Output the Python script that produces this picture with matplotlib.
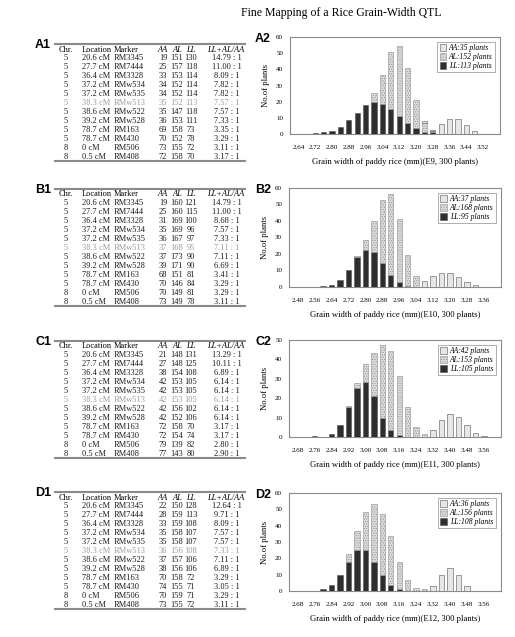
import numpy as np
import matplotlib
matplotlib.use('Agg')
import matplotlib.pyplot as plt
from matplotlib.patches import Patch

W, H = 515, 637
SERIF = 'Liberation Serif'
plt.rcParams['hatch.linewidth'] = 0.45

# shared table columns
chromosomes = ['5', '5', '5', '5', '5', '5', '5', '5', '5', '5', '8', '8']
locations = ['20.6 cM', '27.7 cM', '36.4 cM', '37.2 cM', '37.2 cM', '38.3 cM',
             '38.6 cM', '39.2 cM', '78.7 cM', '78.7 cM', '0 cM', '0.5 cM']
markers = ['RM3345', 'RM7444', 'RM3328', 'RMw534', 'RMw535', 'RMw513',
           'RMw522', 'RMw528', 'RM163', 'RM430', 'RM506', 'RM408']

# genotype counts per environment (tables)
a1_aa = [19, 25, 33, 34, 34, 35, 35, 36, 69, 70, 73, 72]
a1_al = [151, 157, 153, 152, 152, 152, 147, 153, 158, 152, 155, 158]
a1_ll = [130, 118, 114, 114, 114, 113, 118, 111, 73, 78, 72, 70]
a1_ratio = ['14.79 : 1', '11.00 : 1', '8.09 : 1', '7.82 : 1', '7.82 : 1', '7.57 : 1',
            '7.57 : 1', '7.33 : 1', '3.35 : 1', '3.29 : 1', '3.11 : 1', '3.17 : 1']

b1_aa = [19, 25, 31, 35, 36, 37, 37, 39, 68, 70, 70, 73]
b1_al = [160, 160, 169, 169, 167, 168, 173, 171, 151, 146, 149, 149]
b1_ll = [121, 115, 100, 96, 97, 95, 90, 90, 81, 84, 81, 78]
b1_ratio = ['14.79 : 1', '11.00 : 1', '8.68 : 1', '7.57 : 1', '7.33 : 1', '7.11 : 1',
            '7.11 : 1', '6.69 : 1', '3.41 : 1', '3.29 : 1', '3.29 : 1', '3.11 : 1']

c1_aa = [21, 27, 38, 42, 42, 42, 42, 42, 72, 72, 79, 77]
c1_al = [148, 148, 154, 153, 153, 153, 156, 152, 158, 154, 139, 143]
c1_ll = [131, 125, 108, 105, 105, 105, 102, 106, 70, 74, 82, 80]
c1_ratio = ['13.29 : 1', '10.11 : 1', '6.89 : 1', '6.14 : 1', '6.14 : 1', '6.14 : 1',
            '6.14 : 1', '6.14 : 1', '3.17 : 1', '3.17 : 1', '2.80 : 1', '2.90 : 1']

d1_aa = [22, 28, 33, 35, 35, 36, 37, 38, 70, 74, 70, 73]
d1_al = [150, 159, 159, 158, 158, 156, 157, 156, 158, 155, 159, 155]
d1_ll = [128, 113, 108, 107, 107, 108, 106, 106, 72, 71, 71, 72]
d1_ratio = ['12.64 : 1', '9.71 : 1', '8.09 : 1', '7.57 : 1', '7.57 : 1', '7.33 : 1',
            '7.11 : 1', '6.89 : 1', '3.29 : 1', '3.05 : 1', '3.29 : 1', '3.11 : 1']

# histograms: stacked counts per grain-width class (LL bottom, AL middle, AA top)
a2_ticks = ['2.64', '2.72', '2.80', '2.88', '2.96', '3.04', '3.12', '3.20', '3.28', '3.36', '3.44', '3.52']
a2_ll = [0.3, 0, 0.5, 1, 2, 4.5, 8.5, 13, 18, 19.5, 18.5, 15.5, 11, 6.5, 3.5, 1.5, 1, 0, 0, 0, 0, 0, 0.3]
a2_al = [0, 0, 0, 0, 0, 0, 0, 0, 0, 6, 18, 35, 43.5, 34.5, 17.5, 5.5, 1, 0, 0, 0, 0, 0, 0]
a2_aa = [0, 0, 0, 0, 0, 0, 0, 0, 0, 0, 0, 0, 0, 0, 0, 1, 0.5, 6, 9.5, 9.5, 5.5, 2, 0]

b2_ticks = ['2.48', '2.56', '2.64', '2.72', '2.80', '2.88', '2.96', '3.04', '3.12', '3.20', '3.28', '3.36']
b2_ll = [0.2, 0.2, 0, 0.4, 1, 4, 10.5, 18, 22.5, 21.5, 14.5, 7, 3, 0.5, 0, 0, 0, 0, 0, 0, 0, 0, 0]
b2_al = [0, 0, 0, 0, 0, 0, 0, 1, 6, 18.5, 38.5, 49.5, 38.5, 19, 6.5, 0, 0, 0, 0, 0, 0, 0, 0]
b2_aa = [0, 0, 0, 0, 0, 0, 0, 0, 0, 0, 0, 0, 0, 0, 0, 3.5, 6.5, 8.5, 8.5, 6, 3, 1, 0.3]

c2_ticks = ['2.68', '2.76', '2.84', '2.92', '3.00', '3.08', '3.16', '3.24', '3.32', '3.40', '3.48', '3.56']
c2_ll = [0.2, 0.2, 0.3, 0, 1.5, 6, 15.5, 25.5, 28.5, 21, 10, 3.5, 0.8, 0, 0, 0, 0, 0, 0, 0, 0, 0, 0]
c2_al = [0, 0, 0, 0, 0, 0, 0.5, 2.5, 9, 22.5, 37.5, 41, 30.7, 15.5, 5, 1.5, 0, 0, 0, 0, 0, 0, 0]
c2_aa = [0, 0, 0, 0, 0, 0, 0, 0, 0, 0, 0, 0, 0, 0, 0, 0, 3.5, 9, 12, 10.5, 6, 2, 0.5]

d2_ticks = ['2.68', '2.76', '2.84', '2.92', '3.00', '3.08', '3.16', '3.24', '3.32', '3.40', '3.48', '3.56']
d2_ll = [0.2, 0, 0.3, 1, 3.5, 10, 18, 25, 25, 18, 9.5, 3.5, 1, 0, 0, 0, 0, 0, 0, 0, 0, 0, 0]
d2_al = [0, 0, 0, 0, 0, 0, 4.5, 11.5, 23.5, 35, 37.5, 30, 17, 7, 2, 1, 0, 0, 0, 0, 0, 0, 0]
d2_aa = [0, 0, 0, 0, 0, 0, 0, 0, 0, 0, 0, 0, 0, 0, 0, 0, 3, 9.5, 14, 9.5, 3, 0.3, 0]

dark, light, mid, edge, dots = '#2e2e2e', '#e6e6e6', '#dcdcdc', '#555555', '#8e8e8e'


def px_axes(fig, x0, y0, x1, y1):
    return fig.add_axes([x0 / W, 1 - y1 / H, (x1 - x0) / W, (y1 - y0) / H])


def draw_table(bg, top, tag, aa, al, ll, ratios):
    bg.text(35, top + 1, tag, fontsize=9, fontweight='bold', family='Liberation Sans', va='center')
    bg.plot([55, 245], [top, top], color='#8a8a8a', lw=1.5)
    hy = top + 5.5
    hdr = dict(fontsize=6, family=SERIF, va='center')
    bg.text(66, hy, 'Chr.', ha='center', **hdr)
    bg.text(82, hy, 'Location', ha='left', **hdr)
    bg.text(114, hy, 'Marker', ha='left', **hdr)
    for xc, lab in [(163, 'AA'), (177, 'AL'), (191, 'LL'), (226, 'LL+AL/AA')]:
        bg.text(xc, hy, lab, ha='center', style='italic', **hdr)
    for i in range(len(markers)):
        y = top + 14 + 9.0 * i
        col = '#9a9a9a' if markers[i] == 'RMw513' else '#1a1a1a'
        kw = dict(fontsize=6, family=SERIF, va='center', color=col)
        bg.text(66, y, chromosomes[i], ha='center', **kw)
        bg.text(82, y, locations[i], ha='left', **kw)
        bg.text(114, y, markers[i], ha='left', **kw)
        bg.text(163, y, str(aa[i]), ha='center', **kw)
        bg.text(177, y, str(al[i]), ha='center', **kw)
        bg.text(191, y, str(ll[i]), ha='center', **kw)
        bg.text(227, y, ratios[i], ha='center', **kw)
    bg.plot([55, 245], [top + 117, top + 117], color='#8a8a8a', lw=1.5)


def draw_hist(ax, ll, al, aa, ticks, ymax, xlabel, counts):
    x = np.arange(len(ll))
    ll, al, aa = np.array(ll), np.array(al), np.array(aa)
    w = 0.64
    m = ll > 0
    ax.bar(x[m], ll[m], width=w, color=dark, edgecolor=edge, lw=0.4, zorder=3)
    m = al > 0
    ax.bar(x[m], al[m], bottom=ll[m], width=w, color=mid, edgecolor=dots,
           hatch='.......', lw=0.4, zorder=3)
    m = aa > 0
    ax.bar(x[m], aa[m], bottom=(ll + al)[m], width=w, color=light, edgecolor=edge, lw=0.4, zorder=3)
    ax.set_xlim(-1.0, 24.0)
    ax.set_ylim(0, ymax)
    ax.set_yticks(np.arange(0, ymax + 1, 10))
    ax.set_xticks(x[::2])
    ax.set_xticklabels(ticks)
    ax.tick_params(length=0, labelsize=5, pad=5)
    for lab in ax.get_xticklabels() + ax.get_yticklabels():
        lab.set_family(SERIF)
    ax.tick_params(axis='x', pad=8)
    for s in ax.spines.values():
        s.set_color('#8a8a8a')
        s.set_linewidth(0.8)
    ax.set_xlabel(xlabel, fontsize=6.2, family=SERIF, labelpad=6)
    ax.set_ylabel('No.of plants', fontsize=6.2, family=SERIF, labelpad=4)
    handles = [Patch(facecolor=light, edgecolor=edge, lw=0.4),
               Patch(facecolor=mid, edgecolor=dots, hatch='.......', lw=0.4),
               Patch(facecolor=dark, edgecolor=edge, lw=0.4)]
    labels = ['AA:%d plants' % counts[0], 'AL:%d plants' % counts[1], 'LL:%d plants' % counts[2]]
    leg = ax.legend(handles, labels, loc='upper right', bbox_to_anchor=(0.975, 0.95),
                    borderaxespad=0, fancybox=False, handlelength=0.9, handleheight=0.9,
                    handletextpad=0.3, labelspacing=0.12, borderpad=0.3,
                    prop={'family': SERIF, 'style': 'italic', 'size': 5.5})
    leg.get_frame().set_edgecolor('#8a8a8a')
    leg.get_frame().set_linewidth(0.6)


fig = plt.figure(figsize=(W / 100, H / 100), dpi=100)
bg = fig.add_axes([0, 0, 1, 1], zorder=0)
bg.set_xlim(0, W)
bg.set_ylim(H, 0)
bg.axis('off')

bg.text(341, 13, 'Fine Mapping of a Rice Grain-Width QTL', fontsize=8.5, family=SERIF,
        ha='center', va='center')

draw_table(bg, 44, 'A1', a1_aa, a1_al, a1_ll, a1_ratio)
draw_table(bg, 189, 'B1', b1_aa, b1_al, b1_ll, b1_ratio)
draw_table(bg, 341, 'C1', c1_aa, c1_al, c1_ll, c1_ratio)
draw_table(bg, 492, 'D1', d1_aa, d1_al, d1_ll, d1_ratio)

panels = [
    ('A2', (290, 37, 500, 134), a2_ll, a2_al, a2_aa, a2_ticks, 60, 'E9', (35, 152, 113)),
    ('B2', (289, 188, 501, 287), b2_ll, b2_al, b2_aa, b2_ticks, 60, 'E10', (37, 168, 95)),
    ('C2', (289, 340, 501, 437), c2_ll, c2_al, c2_aa, c2_ticks, 50, 'E11', (42, 153, 105)),
    ('D2', (289, 493, 501, 591), d2_ll, d2_al, d2_aa, d2_ticks, 60, 'E12', (36, 156, 108)),
]
for tag, box, ll, al, aa, ticks, ymax, env, counts in panels:
    ax = px_axes(fig, *box)
    draw_hist(ax, ll, al, aa, ticks, ymax,
              'Grain width of paddy rice (mm)(%s, 300 plants)' % env, counts)
    bg.text(255, box[1] + 2, tag, fontsize=9, fontweight='bold', family='Liberation Sans', va='center')

fig.savefig('out.png', dpi=100)
